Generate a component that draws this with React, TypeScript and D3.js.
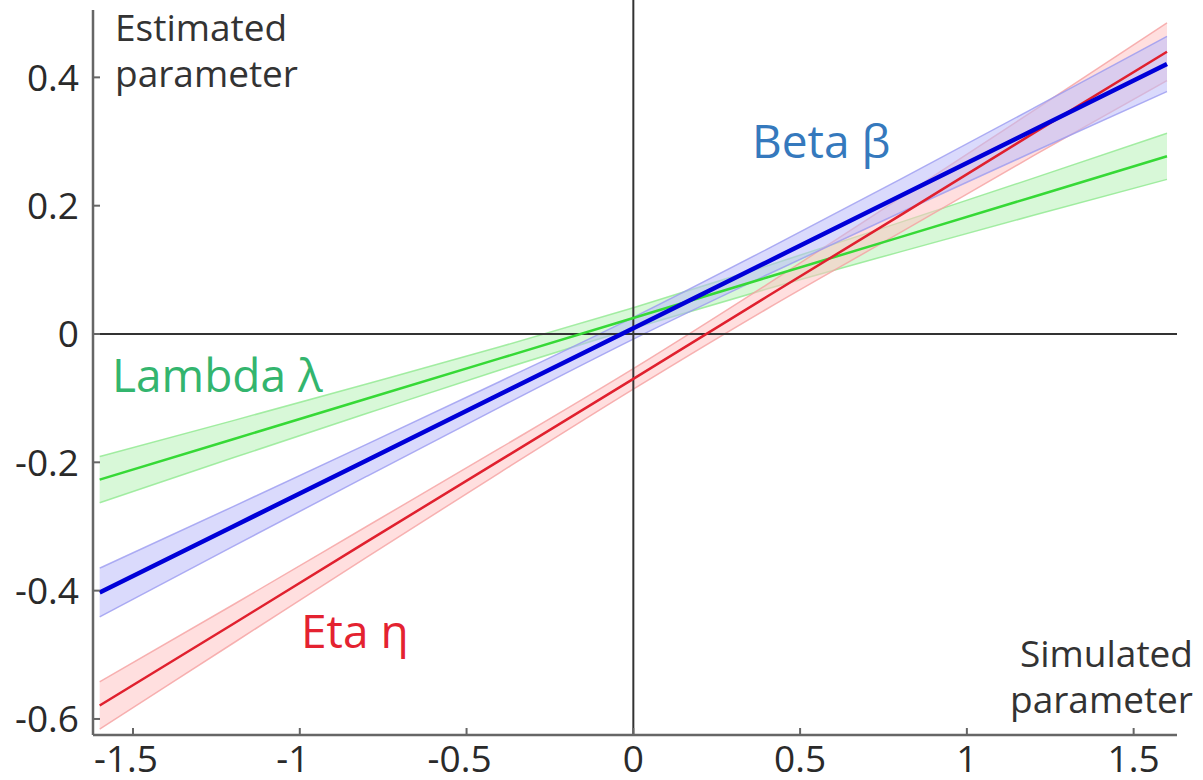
import React from "react";
import * as d3 from "d3";

const xs = [-1.6, -1.2, -0.8, -0.4, 0, 0.4, 0.8, 1.2, 1.6];

const betaMean = [-0.403, -0.300, -0.197, -0.094, 0.009, 0.112, 0.215, 0.318, 0.421];
const betaHalf = [0.038, 0.031, 0.025, 0.020, 0.017, 0.020, 0.026, 0.034, 0.043];

const etaMean = [-0.579, -0.452, -0.324, -0.197, -0.070, 0.058, 0.185, 0.313, 0.440];
const etaHalf = [0.037, 0.030, 0.024, 0.019, 0.016, 0.019, 0.027, 0.035, 0.045];

const lambdaMean = [-0.227, -0.164, -0.101, -0.038, 0.025, 0.088, 0.151, 0.214, 0.277];
const lambdaHalf = [0.036, 0.029, 0.023, 0.018, 0.016, 0.018, 0.023, 0.029, 0.036];

const xTicks = [-1.5, -1, -0.5, 0, 0.5, 1, 1.5];
const xTickLabels = ["-1.5", "-1", "-0.5", "0", "0.5", "1", "1.5"];
const yTicks = [0.4, 0.2, 0, -0.2, -0.4, -0.6];
const yTickLabels = ["0.4", "0.2", "0", "-0.2", "-0.4", "-0.6"];

const W = 1203;
const H = 780;
const FONT = "'Open Sans', 'Noto Sans', sans-serif";

export default function App() {
  const x = d3.scaleLinear().domain([-1.62, 1.63]).range([93, 1177]);
  const y = d3.scaleLinear().domain([-0.625, 0.505]).range([735, 10]);

  const series = [
    { mean: lambdaMean, half: lambdaHalf, line: "#36d936", fill: "#b8f2b8", edge: "#8fe88f", width: 2.5 },
    { mean: etaMean, half: etaHalf, line: "#e0202e", fill: "#ffc4c4", edge: "#f5a0a0", width: 2.5 },
    { mean: betaMean, half: betaHalf, line: "#0000d8", fill: "#bcbcfa", edge: "#9a9af0", width: 4.5 },
  ];

  const area = (m: number[], h: number[]) =>
    d3
      .area<number>()
      .x((_, i) => x(xs[i]))
      .y0((_, i) => y(m[i] - h[i]))
      .y1((_, i) => y(m[i] + h[i]))
      .curve(d3.curveMonotoneX)(m) as string;

  const edge = (m: number[], h: number[], s: number) =>
    d3
      .line<number>()
      .x((_, i) => x(xs[i]))
      .y((_, i) => y(m[i] + s * h[i]))
      .curve(d3.curveMonotoneX)(m) as string;

  const line = (m: number[]) =>
    d3
      .line<number>()
      .x((_, i) => x(xs[i]))
      .y((v) => y(v))(m) as string;

  return (
    <svg width={W} height={H} style={{ position: "absolute", left: 0, top: 0, background: "#fff" }}>
      {series.map((s, k) => (
        <g key={"b" + k}>
          <path d={area(s.mean, s.half)} fill={s.fill} opacity={0.55} />
          <path d={edge(s.mean, s.half, 1)} fill="none" stroke={s.edge} strokeWidth={1.5} opacity={0.8} />
          <path d={edge(s.mean, s.half, -1)} fill="none" stroke={s.edge} strokeWidth={1.5} opacity={0.8} />
        </g>
      ))}
      <line x1={x(0)} x2={x(0)} y1={0} y2={y(-0.625)} stroke="#333" strokeWidth={2} />
      <line x1={x(-1.62)} x2={x(1.63)} y1={y(0)} y2={y(0)} stroke="#333" strokeWidth={2} />
      {series.map((s, k) => (
        <path key={"l" + k} d={line(s.mean)} fill="none" stroke={s.line} strokeWidth={s.width} />
      ))}
      <line x1={x(-1.62)} x2={x(-1.62)} y1={y(0.505)} y2={y(-0.625)} stroke="#666" strokeWidth={2.5} />
      <line x1={x(-1.62)} x2={x(1.63)} y1={y(-0.625)} y2={y(-0.625)} stroke="#666" strokeWidth={2.5} />
      {yTicks.map((t, i) => (
        <g key={"yt" + i}>
          <line x1={x(-1.62)} x2={x(-1.62) + 7} y1={y(t)} y2={y(t)} stroke="#666" strokeWidth={2} />
          <text x={79} y={y(t)} dy="0.36em" textAnchor="end" fontFamily={FONT} fontSize={37} fill="#2a2a2a">
            {yTickLabels[i]}
          </text>
        </g>
      ))}
      {xTicks.map((t, i) => (
        <g key={"xt" + i}>
          <line x1={x(t)} x2={x(t)} y1={y(-0.625)} y2={y(-0.625) - 7} stroke="#666" strokeWidth={2} />
          <text x={x(t) - (t < 0 ? 7 : 0)} y={772} textAnchor="middle" fontFamily={FONT} fontSize={37} fill="#2a2a2a">
            {xTickLabels[i]}
          </text>
        </g>
      ))}
      <text x={115} y={41} fontFamily={FONT} fontSize={37} fill="#333">Estimated</text>
      <text x={115} y={87} fontFamily={FONT} fontSize={37} fill="#333">parameter</text>
      <text x={1193} y={667} textAnchor="end" fontFamily={FONT} fontSize={37} fill="#333">Simulated</text>
      <text x={1193} y={713} textAnchor="end" fontFamily={FONT} fontSize={37} fill="#333">parameter</text>
      <text x={112} y={392} fontFamily={FONT} fontSize={46} fill="#33b56e">Lambda λ</text>
      <text x={752} y={158} fontFamily={FONT} fontSize={46} fill="#3579bd">Beta β</text>
      <text x={301} y={648} fontFamily={FONT} fontSize={46} fill="#e42230">Eta η</text>
    </svg>
  );
}
